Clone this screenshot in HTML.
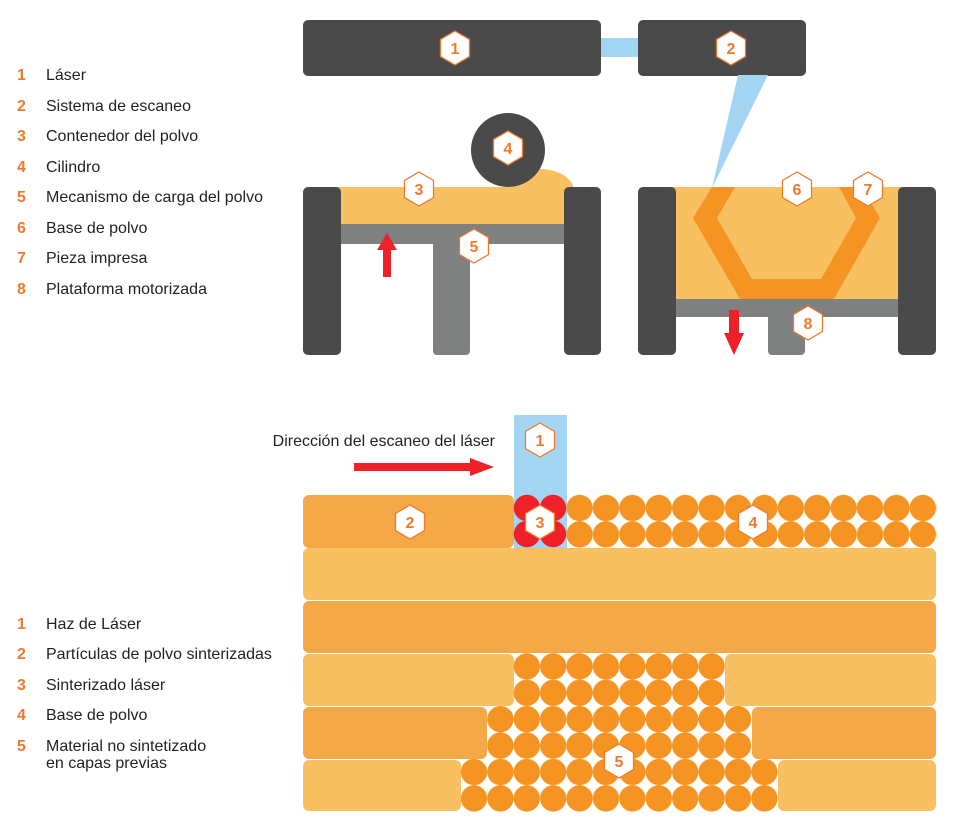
<!DOCTYPE html>
<html><head><meta charset="utf-8"><style>
html,body{margin:0;padding:0;background:#fff;}
svg{display:block;}
.lg{font-family:"Liberation Sans",sans-serif;font-size:16px;fill:#231f20;}
.ln{font-family:"Liberation Sans",sans-serif;font-size:16px;font-weight:bold;fill:#ef7a2e;}
.hx{font-family:"Liberation Sans",sans-serif;font-size:16px;font-weight:bold;fill:#ef7a2e;text-anchor:middle;}
</style></head><body>
<svg width="962" height="823" viewBox="0 0 962 823" xmlns="http://www.w3.org/2000/svg">
<defs>
<pattern id="dots" patternUnits="userSpaceOnUse" x="460.8" y="494.8" width="26.4" height="26.4">
<circle cx="13.2" cy="13.2" r="13.2" fill="#f59422"/>
</pattern>
<path id="hex" d="M0,-17 L14.5,-8.5 L14.5,8.5 L0,17 L-14.5,8.5 L-14.5,-8.5 Z" fill="#fff" stroke="#ef7a2e" stroke-width="1.3"/>
</defs>

<g>
<text class="ln" x="17" y="80">1</text><text class="lg" x="46" y="80">Láser</text>
<text class="ln" x="17" y="111">2</text><text class="lg" x="46" y="111">Sistema de escaneo</text>
<text class="ln" x="17" y="141">3</text><text class="lg" x="46" y="141">Contenedor del polvo</text>
<text class="ln" x="17" y="172">4</text><text class="lg" x="46" y="172">Cilindro</text>
<text class="ln" x="17" y="202">5</text><text class="lg" x="46" y="202">Mecanismo de carga del polvo</text>
<text class="ln" x="17" y="233">6</text><text class="lg" x="46" y="233">Base de polvo</text>
<text class="ln" x="17" y="263">7</text><text class="lg" x="46" y="263">Pieza impresa</text>
<text class="ln" x="17" y="294">8</text><text class="lg" x="46" y="294">Plataforma motorizada</text>
</g>

<rect x="600" y="38" width="40" height="19" fill="#a3d4f1"/>
<rect x="303" y="20" width="298" height="56" rx="5" fill="#4a4a4a"/>
<rect x="638" y="20" width="168" height="56" rx="5" fill="#4a4a4a"/>
<polygon points="738,75 768,75 712,188" fill="#a3d4f1"/>

<path d="M507,187 L507,169 L540,169 A34,22 0 0 1 574,190 L574,200 L507,200 Z" fill="#f9c062"/>
<rect x="335" y="187" width="235" height="38" fill="#f9c062"/>
<rect x="335" y="224" width="235" height="20" fill="#7f8080"/>
<rect x="433" y="234" width="37" height="121" rx="4" fill="#7f8080"/>
<rect x="303" y="187" width="38" height="168" rx="5" fill="#4a4a4a"/>
<rect x="564" y="187" width="37" height="168" rx="5" fill="#4a4a4a"/>
<circle cx="508" cy="150" r="37" fill="#4a4a4a"/>
<polygon points="387,233 397,250 391,250 391,277 383,277 383,250 377,250" fill="#ee2028"/>

<rect x="670" y="187" width="233" height="113" fill="#f9c062"/>
<path d="M712,187 L735,187 L717,218 L752,279 L821,279 L856,218 L839,187 L862,187 L880,218 L834,299 L740,299 L693,218 Z" fill="#f59422"/>
<rect x="670" y="299" width="233" height="18" fill="#7f8080"/>
<rect x="768" y="310" width="37" height="45" rx="4" fill="#7f8080"/>
<rect x="638" y="187" width="38" height="168" rx="5" fill="#4a4a4a"/>
<rect x="898" y="187" width="38" height="168" rx="5" fill="#4a4a4a"/>
<polygon points="729,310 739,310 739,333 744,333 734,355 724,333 729,333" fill="#ee2028"/>

<text class="lg" x="495" y="446" text-anchor="end">Dirección del escaneo del láser</text>
<polygon points="354,463 470,463 470,458 494,467 470,476 470,471 354,471" fill="#ee2028"/>
<rect x="514" y="415" width="53" height="133" fill="#a3d4f1"/>
<rect x="303" y="495" width="211" height="53" rx="6" fill="#f5a847"/>
<circle cx="527" cy="508" r="13.2" fill="#ee2028"/>
<circle cx="553" cy="508" r="13.2" fill="#ee2028"/>
<circle cx="527" cy="534" r="13.2" fill="#ee2028"/>
<circle cx="553" cy="534" r="13.2" fill="#ee2028"/>
<rect x="566.4" y="494.8" width="370" height="52.8" fill="url(#dots)"/>
<rect x="303" y="548" width="633" height="52" rx="6" fill="#f9c062"/>
<rect x="303" y="601" width="633" height="52" rx="6" fill="#f5a847"/>
<rect x="303" y="654" width="211" height="52" rx="6" fill="#f9c062"/>
<rect x="513.6" y="653.2" width="211.2" height="52.8" fill="url(#dots)"/>
<rect x="725" y="654" width="211" height="52" rx="6" fill="#f9c062"/>
<rect x="303" y="707" width="184" height="52" rx="6" fill="#f5a847"/>
<rect x="487.2" y="706" width="264" height="52.8" fill="url(#dots)"/>
<rect x="752" y="707" width="184" height="52" rx="6" fill="#f5a847"/>
<rect x="303" y="760" width="158" height="51" rx="6" fill="#f9c062"/>
<rect x="460.8" y="758.8" width="316.8" height="52.8" fill="url(#dots)"/>
<rect x="778" y="760" width="158" height="51" rx="6" fill="#f9c062"/>

<g transform="translate(455,48)"><use href="#hex"/><text class="hx" y="6">1</text></g>
<g transform="translate(731,48)"><use href="#hex"/><text class="hx" y="6">2</text></g>
<g transform="translate(419,189)"><use href="#hex"/><text class="hx" y="6">3</text></g>
<g transform="translate(508,148)"><use href="#hex"/><text class="hx" y="6">4</text></g>
<g transform="translate(474,246)"><use href="#hex"/><text class="hx" y="6">5</text></g>
<g transform="translate(797,189)"><use href="#hex"/><text class="hx" y="6">6</text></g>
<g transform="translate(868,189)"><use href="#hex"/><text class="hx" y="6">7</text></g>
<g transform="translate(808,323)"><use href="#hex"/><text class="hx" y="6">8</text></g>
<g transform="translate(540,440)"><use href="#hex"/><text class="hx" y="6">1</text></g>
<g transform="translate(410,522)"><use href="#hex"/><text class="hx" y="6">2</text></g>
<g transform="translate(540,522)"><use href="#hex"/><text class="hx" y="6">3</text></g>
<g transform="translate(753,522)"><use href="#hex"/><text class="hx" y="6">4</text></g>
<g transform="translate(619,761)"><use href="#hex"/><text class="hx" y="6">5</text></g>

<g>
<text class="ln" x="17" y="629">1</text><text class="lg" x="46" y="629">Haz de Láser</text>
<text class="ln" x="17" y="659">2</text><text class="lg" x="46" y="659">Partículas de polvo sinterizadas</text>
<text class="ln" x="17" y="690">3</text><text class="lg" x="46" y="690">Sinterizado láser</text>
<text class="ln" x="17" y="720">4</text><text class="lg" x="46" y="720">Base de polvo</text>
<text class="ln" x="17" y="751">5</text><text class="lg" x="46" y="751">Material no sintetizado</text>
<text class="lg" x="46" y="768">en capas previas</text>
</g>
</svg>
</body></html>
